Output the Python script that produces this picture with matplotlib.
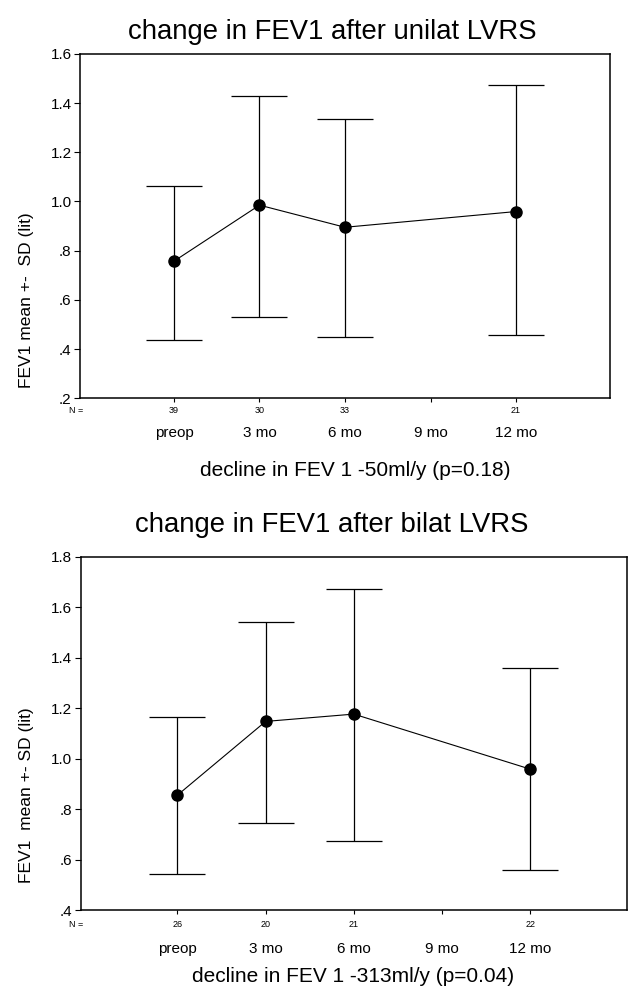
import matplotlib.pyplot as plt

plt.rcParams['font.family'] = ['Liberation Sans', 'DejaVu Sans']

# shared x categories (9 mo has no data)
times = ['preop', '3 mo', '6 mo', '9 mo', '12 mo']
pos = [1, 2, 3, 4, 5]

# unilateral LVRS
uni_pos = [1, 2, 3, 5]
uni_mean = [0.757, 0.985, 0.895, 0.959]
uni_upper = [1.064, 1.427, 1.336, 1.472]
uni_lower = [0.436, 0.530, 0.449, 0.458]
uni_n = ['39', '30', '33', '', '21']

# bilateral LVRS
bi_pos = [1, 2, 3, 5]
bi_mean = [0.856, 1.148, 1.177, 0.959]
bi_upper = [1.167, 1.543, 1.672, 1.358]
bi_lower = [0.543, 0.744, 0.674, 0.558]
bi_n = ['26', '20', '21', '', '22']

fig = plt.figure(figsize=(6.29, 9.98), dpi=100)
ax1 = fig.add_axes([0.127, 0.601, 0.843, 0.345])
ax2 = fig.add_axes([0.128, 0.088, 0.869, 0.354])


def draw(ax, xs, mean, upper, lower, n, ylim, yticks, ylabels, n_off, lab_off):
    err = [[m - lo for m, lo in zip(mean, lower)],
           [u - m for m, u in zip(mean, upper)]]
    ax.errorbar(xs, mean, yerr=err, fmt='-o', color='black', lw=0.8,
                elinewidth=0.9, capsize=20, capthick=0.9, markersize=8)
    ax.set_xlim(-0.1, 6.1)
    ax.set_ylim(*ylim)
    ax.set_yticks(yticks)
    ax.set_yticklabels(ylabels, fontsize=11)
    ax.set_xticks(pos)
    ax.set_xticklabels([])
    ax.tick_params(axis='x', length=3, width=0.8)
    ax.tick_params(axis='y', length=4, width=0.8, pad=2)
    for s in ax.spines.values():
        s.set_linewidth(1.1)
    for p, t, k in zip(pos, times, n):
        ax.annotate(k, xy=(p, 0), xycoords=('data', 'axes fraction'),
                    xytext=(0, -n_off), textcoords='offset points',
                    ha='center', va='center', fontsize=6.5)
        ax.annotate(t, xy=(p, 0), xycoords=('data', 'axes fraction'),
                    xytext=(0, -lab_off), textcoords='offset points',
                    ha='center', va='center', fontsize=11)
    ax.annotate('N =', xy=(0, 0), xycoords='axes fraction',
                xytext=(-3, -n_off), textcoords='offset points',
                ha='center', va='center', fontsize=6.5)


draw(ax1, uni_pos, uni_mean, uni_upper, uni_lower, uni_n, (0.2, 1.6),
     [0.2, 0.4, 0.6, 0.8, 1.0, 1.2, 1.4, 1.6],
     ['.2', '.4', '.6', '.8', '1.0', '1.2', '1.4', '1.6'], 9, 25)
draw(ax2, bi_pos, bi_mean, bi_upper, bi_lower, bi_n, (0.4, 1.8),
     [0.4, 0.6, 0.8, 1.0, 1.2, 1.4, 1.6, 1.8],
     ['.4', '.6', '.8', '1.0', '1.2', '1.4', '1.6', '1.8'], 10, 28)

fig.text(0.528, 0.968, 'change in FEV1 after unilat LVRS', ha='center',
         va='center', fontsize=19.8)
fig.text(0.564, 0.529, 'decline in FEV 1 -50ml/y (p=0.18)', ha='center',
         va='center', fontsize=15)
fig.text(0.042, 0.699, 'FEV1 mean +-  SD (lit)', rotation=90, ha='center',
         va='center', fontsize=12.5)

fig.text(0.528, 0.474, 'change in FEV1 after bilat LVRS', ha='center',
         va='center', fontsize=19.8)
fig.text(0.562, 0.022, 'decline in FEV 1 -313ml/y (p=0.04)', ha='center',
         va='center', fontsize=15)
fig.text(0.042, 0.203, 'FEV1  mean +- SD (lit)', rotation=90, ha='center',
         va='center', fontsize=12.5)

fig.savefig('out.png', dpi=100)
